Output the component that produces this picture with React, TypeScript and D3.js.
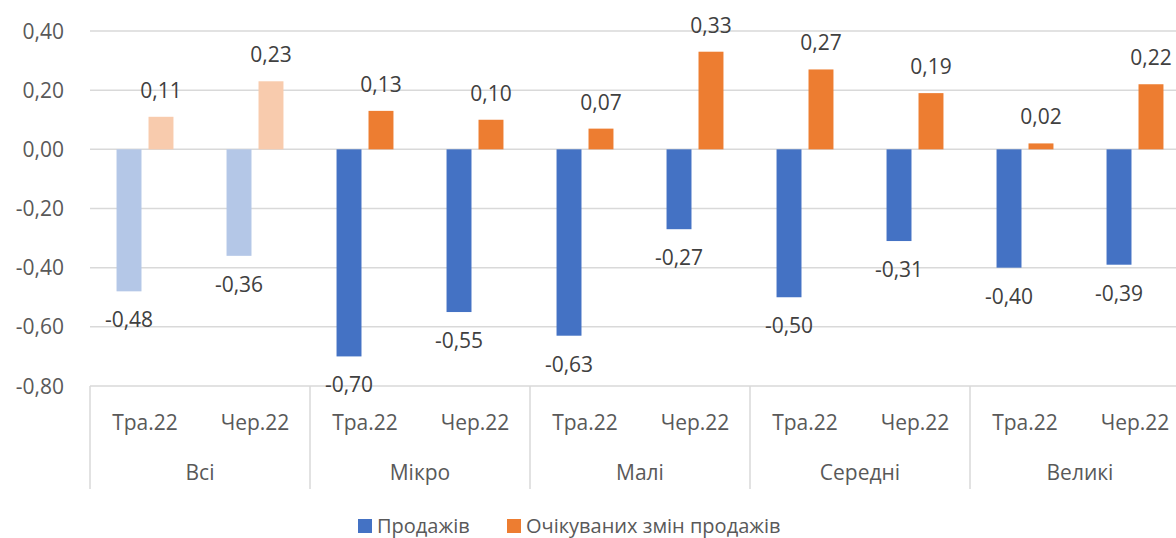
import * as d3 from "d3";

const groups = ["Всі", "Мікро", "Малі", "Середні", "Великі"];
const periods = ["Тра.22", "Чер.22"];
const seriesNames = ["Продажів", "Очікуваних змін продажів"];
const sales = [-0.48, -0.36, -0.7, -0.55, -0.63, -0.27, -0.5, -0.31, -0.4, -0.39];
const expected = [0.11, 0.23, 0.13, 0.1, 0.07, 0.33, 0.27, 0.19, 0.02, 0.22];
const yTicks = [0.4, 0.2, 0, -0.2, -0.4, -0.6, -0.8];

const W = 1176;
const H = 538;
const FONT = "'Open Sans', 'Liberation Sans', sans-serif";
const colors = ["#4472C4", "#ED7D31"];
const faded = ["#B4C7E7", "#F8CBAD"];

const fmt = (v: number) => v.toFixed(2).replace(".", ",");

export default function App() {
  const left = 90;
  const right = 1190;
  const axisY = 386;

  const y = d3.scaleLinear().domain([-0.8, 0.4]).range([axisY, 31]);
  const xGroup = d3.scaleBand().domain(groups).range([left, right]);
  const xPeriod = d3.scaleBand().domain(periods).range([0, xGroup.bandwidth()]);
  const xSeries = d3
    .scaleBand()
    .domain(seriesNames)
    .range([0, xPeriod.bandwidth()])
    .paddingInner(0.22)
    .paddingOuter(0.83);

  const rows = groups.flatMap((g, gi) =>
    periods.map((p, pi) => ({
      group: g,
      period: p,
      gi,
      values: [sales[gi * 2 + pi], expected[gi * 2 + pi]],
    }))
  );

  return (
    <svg
      width={W}
      height={H}
      style={{ position: "absolute", left: 0, top: 0, background: "#fff" }}
      fontFamily={FONT}
    >
      {/* grid */}
      {yTicks.map((t) => (
        <g key={t}>
          <line x1={left} x2={right} y1={y(t)} y2={y(t)} stroke="#d9d9d9" strokeWidth={1.5} />
          <text x={64} y={y(t) + 7.5} textAnchor="end" fontSize={21} fill="#595959">
            {fmt(t)}
          </text>
        </g>
      ))}

      {/* category axis separators */}
      {[...groups.map((g) => xGroup(g) as number), right].map((x, i) => (
        <line key={i} x1={x} x2={x} y1={axisY} y2={489} stroke="#d9d9d9" strokeWidth={1.5} />
      ))}

      {/* bars */}
      {rows.map((r) => {
        const x0 = (xGroup(r.group) as number) + (xPeriod(r.period) as number);
        return (
          <g key={r.group + r.period}>
            {r.values.map((v, si) => {
              const xs = x0 + (xSeries(seriesNames[si]) as number);
              const bw = xSeries.bandwidth();
              const top = y(Math.max(0, v));
              const bot = y(Math.min(0, v));
              const fill = r.gi === 0 ? faded[si] : colors[si];
              return (
                <g key={si}>
                  <rect x={xs} y={top} width={bw} height={bot - top} fill={fill} />
                  <text
                    x={xs + bw / 2}
                    y={v >= 0 ? top - 19 : bot + 36}
                    textAnchor="middle"
                    fontSize={21}
                    fill="#404040"
                  >
                    {fmt(v)}
                  </text>
                </g>
              );
            })}
            <text
              x={x0 + xPeriod.bandwidth() / 2}
              y={430}
              textAnchor="middle"
              fontSize={21}
              fill="#595959"
            >
              {r.period}
            </text>
          </g>
        );
      })}

      {groups.map((g) => (
        <text
          key={g}
          x={(xGroup(g) as number) + xGroup.bandwidth() / 2}
          y={480}
          textAnchor="middle"
          fontSize={21}
          fill="#595959"
        >
          {g}
        </text>
      ))}

      {/* legend */}
      <rect x={358} y={519} width={14} height={14} fill={colors[0]} />
      <text x={377} y={533} fontSize={20} fill="#595959">
        {seriesNames[0]}
      </text>
      <rect x={507} y={519} width={14} height={14} fill={colors[1]} />
      <text x={526} y={533} fontSize={20} fill="#595959">
        {seriesNames[1]}
      </text>
    </svg>
  );
}
